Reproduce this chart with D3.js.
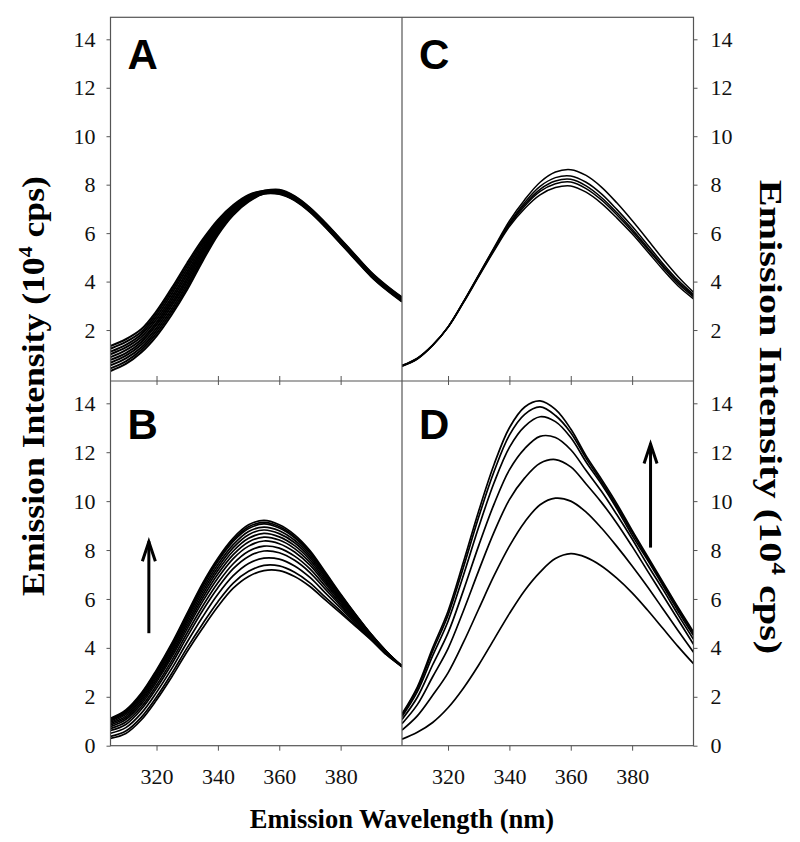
<!DOCTYPE html>
<html>
<head>
<meta charset="utf-8">
<script src="https://cdn.jsdelivr.net/npm/d3@7"></script>
<style>
  html, body { margin: 0; padding: 0; background: #fff; }
  svg { display: block; }
</style>
</head>
<body>
<svg id="chart" width="800" height="842"></svg>
<script>
// ---------- DATA ----------
const wavelengths = [305, 310, 315, 320, 325, 330, 335, 340, 345, 350, 355, 360, 365, 370, 375, 380, 385, 390, 395, 400];
const xTicks = [320, 340, 360, 380];
const yTicksTop = [2, 4, 6, 8, 10, 12, 14];
const yTicksBottom = [0, 2, 4, 6, 8, 10, 12, 14];
const panelLetters = ["A", "B", "C", "D"];
const xTitle = "Emission Wavelength (nm)";
const yTitleMain = "Emission Intensity (10";
const yTitleSup = "4";
const yTitleEnd = " cps)";

// Panel A: emission spectra (10^4 cps)
const seriesA = [
  [0.31, 0.60, 1.07, 1.75, 2.64, 3.67, 4.84, 5.93, 6.75, 7.30, 7.62, 7.61, 7.35, 6.87, 6.25, 5.57, 4.88, 4.20, 3.65, 3.17],
  [0.42, 0.71, 1.18, 1.86, 2.76, 3.79, 4.94, 6.00, 6.80, 7.33, 7.63, 7.63, 7.37, 6.89, 6.27, 5.59, 4.90, 4.22, 3.67, 3.19],
  [0.54, 0.83, 1.28, 1.98, 2.88, 3.91, 5.04, 6.07, 6.84, 7.36, 7.65, 7.65, 7.39, 6.91, 6.29, 5.61, 4.92, 4.24, 3.69, 3.21],
  [0.65, 0.94, 1.39, 2.09, 3.01, 4.04, 5.14, 6.14, 6.89, 7.39, 7.66, 7.67, 7.41, 6.93, 6.31, 5.63, 4.94, 4.26, 3.71, 3.23],
  [0.77, 1.05, 1.50, 2.21, 3.13, 4.16, 5.24, 6.21, 6.93, 7.42, 7.68, 7.69, 7.43, 6.95, 6.33, 5.65, 4.96, 4.28, 3.73, 3.25],
  [0.88, 1.17, 1.60, 2.32, 3.25, 4.28, 5.33, 6.27, 6.98, 7.46, 7.69, 7.71, 7.45, 6.97, 6.35, 5.67, 4.98, 4.30, 3.75, 3.27],
  [1.00, 1.28, 1.71, 2.44, 3.37, 4.40, 5.43, 6.34, 7.02, 7.49, 7.71, 7.73, 7.47, 6.99, 6.37, 5.69, 5.00, 4.32, 3.77, 3.29],
  [1.11, 1.39, 1.82, 2.55, 3.50, 4.53, 5.53, 6.41, 7.07, 7.52, 7.72, 7.75, 7.49, 7.01, 6.39, 5.71, 5.02, 4.34, 3.79, 3.31],
  [1.23, 1.51, 1.92, 2.67, 3.62, 4.65, 5.63, 6.48, 7.11, 7.55, 7.74, 7.77, 7.51, 7.03, 6.41, 5.73, 5.04, 4.36, 3.81, 3.33],
  [1.34, 1.62, 2.03, 2.78, 3.74, 4.77, 5.73, 6.55, 7.16, 7.58, 7.75, 7.79, 7.53, 7.05, 6.43, 5.75, 5.06, 4.38, 3.83, 3.35]
];

// Panel B
const seriesB = [
  [0.30, 0.50, 1.05, 1.87, 2.82, 3.85, 4.80, 5.69, 6.44, 6.92, 7.16, 7.16, 6.92, 6.51, 5.96, 5.42, 4.87, 4.32, 3.71, 3.23],
  [0.38, 0.60, 1.16, 1.99, 2.96, 4.01, 4.98, 5.89, 6.65, 7.13, 7.37, 7.35, 7.09, 6.66, 6.07, 5.50, 4.92, 4.34, 3.72, 3.23],
  [0.51, 0.74, 1.32, 2.18, 3.16, 4.24, 5.26, 6.19, 6.95, 7.45, 7.67, 7.63, 7.35, 6.88, 6.25, 5.62, 4.99, 4.38, 3.75, 3.24],
  [0.62, 0.87, 1.48, 2.35, 3.35, 4.46, 5.52, 6.46, 7.24, 7.74, 7.96, 7.89, 7.58, 7.08, 6.40, 5.72, 5.06, 4.41, 3.76, 3.24],
  [0.70, 0.97, 1.58, 2.47, 3.49, 4.62, 5.70, 6.66, 7.44, 7.95, 8.16, 8.08, 7.75, 7.23, 6.52, 5.80, 5.11, 4.43, 3.78, 3.24],
  [0.78, 1.07, 1.69, 2.60, 3.63, 4.78, 5.89, 6.86, 7.65, 8.16, 8.37, 8.26, 7.92, 7.38, 6.63, 5.88, 5.15, 4.46, 3.79, 3.24],
  [0.85, 1.14, 1.78, 2.69, 3.74, 4.90, 6.03, 7.02, 7.81, 8.33, 8.53, 8.41, 8.06, 7.49, 6.72, 5.94, 5.19, 4.47, 3.80, 3.24],
  [0.91, 1.21, 1.86, 2.78, 3.83, 5.01, 6.16, 7.16, 7.96, 8.48, 8.68, 8.54, 8.18, 7.60, 6.80, 6.00, 5.23, 4.49, 3.81, 3.24],
  [0.96, 1.28, 1.93, 2.87, 3.93, 5.12, 6.29, 7.29, 8.10, 8.63, 8.82, 8.67, 8.30, 7.70, 6.88, 6.05, 5.26, 4.51, 3.82, 3.25],
  [1.01, 1.34, 2.00, 2.94, 4.01, 5.22, 6.40, 7.41, 8.22, 8.76, 8.94, 8.79, 8.40, 7.79, 6.95, 6.10, 5.29, 4.52, 3.83, 3.25],
  [1.06, 1.39, 2.06, 3.01, 4.09, 5.31, 6.51, 7.53, 8.35, 8.88, 9.07, 8.90, 8.50, 7.88, 7.02, 6.15, 5.32, 4.53, 3.84, 3.25],
  [1.09, 1.42, 2.10, 3.05, 4.14, 5.36, 6.57, 7.59, 8.41, 8.95, 9.13, 8.96, 8.55, 7.92, 7.05, 6.17, 5.33, 4.54, 3.84, 3.25],
  [1.12, 1.46, 2.14, 3.10, 4.19, 5.42, 6.64, 7.67, 8.49, 9.03, 9.21, 9.03, 8.62, 7.98, 7.10, 6.20, 5.35, 4.55, 3.85, 3.25]
];

// Panel C
const seriesC = [
  [0.50, 0.80, 1.36, 2.12, 3.16, 4.28, 5.40, 6.50, 7.38, 8.10, 8.52, 8.62, 8.38, 7.90, 7.25, 6.52, 5.74, 4.94, 4.20, 3.56],
  [0.51, 0.81, 1.37, 2.13, 3.16, 4.27, 5.37, 6.41, 7.27, 7.93, 8.29, 8.36, 8.10, 7.62, 6.98, 6.28, 5.52, 4.75, 4.05, 3.47],
  [0.52, 0.82, 1.37, 2.12, 3.15, 4.25, 5.34, 6.37, 7.19, 7.81, 8.15, 8.22, 7.95, 7.47, 6.85, 6.16, 5.41, 4.66, 3.97, 3.42],
  [0.53, 0.83, 1.38, 2.12, 3.14, 4.23, 5.31, 6.33, 7.12, 7.72, 8.04, 8.11, 7.84, 7.37, 6.76, 6.08, 5.34, 4.60, 3.91, 3.37],
  [0.54, 0.84, 1.38, 2.11, 3.12, 4.20, 5.27, 6.27, 7.02, 7.58, 7.88, 7.95, 7.69, 7.23, 6.63, 5.97, 5.24, 4.50, 3.82, 3.29]
];

// Panel D
const seriesD = [
  [0.27, 0.55, 0.95, 1.55, 2.35, 3.30, 4.35, 5.40, 6.35, 7.10, 7.65, 7.85, 7.70, 7.35, 6.85, 6.25, 5.55, 4.80, 4.05, 3.35],
  [0.64, 1.22, 2.06, 2.98, 4.22, 5.59, 6.95, 8.16, 9.15, 9.85, 10.12, 10.00, 9.55, 8.90, 8.15, 7.35, 6.50, 5.60, 4.70, 3.82],
  [0.90, 1.68, 2.82, 3.97, 5.51, 7.16, 8.73, 10.06, 10.95, 11.55, 11.70, 11.40, 10.70, 9.95, 9.10, 8.15, 7.15, 6.15, 5.15, 4.15],
  [1.07, 1.98, 3.31, 4.61, 6.34, 8.18, 9.88, 11.28, 12.15, 12.65, 12.60, 12.10, 11.25, 10.40, 9.45, 8.45, 7.40, 6.40, 5.35, 4.35],
  [1.19, 2.21, 3.68, 5.09, 6.96, 8.94, 10.75, 12.20, 13.06, 13.45, 13.25, 12.60, 11.60, 10.70, 9.70, 8.60, 7.60, 6.55, 5.50, 4.50],
  [1.26, 2.33, 3.88, 5.34, 7.29, 9.35, 11.21, 12.70, 13.55, 13.85, 13.50, 12.80, 11.75, 10.80, 9.80, 8.72, 7.68, 6.63, 5.60, 4.60],
  [1.30, 2.40, 4.00, 5.50, 7.50, 9.60, 11.50, 13.00, 13.85, 14.10, 13.75, 12.95, 11.85, 10.90, 9.90, 8.80, 7.75, 6.70, 5.65, 4.65]
];

// arrows: [wavelength, from value, to value]
const arrowB = [317.5, 4.6, 8.4];
const arrowD = [386, 8.1, 12.4];

// ---------- LAYOUT ----------
const svg = d3.select("#chart");
const X0 = 110.5, XM = 402, X1 = 693.5;
const Y0 = 17.3, YM = 381, Y1 = 745.7;

const xLeft = d3.scaleLinear().domain([305, 400]).range([X0, XM]);
const xRight = d3.scaleLinear().domain([305, 400]).range([XM, X1]);
const yTop = d3.scaleLinear().domain([0, 14]).range([378.5, 39.3]);
const yBot = d3.scaleLinear().domain([0, 14]).range([Y1, 403.3]);

const frameColor = "#555";
const serif = "'Liberation Serif', 'Times New Roman', serif";
const sans = "'Liberation Sans', Arial, sans-serif";

const defs = svg.append("defs");
const panels = [
  { id: "A", x: xLeft, y: yTop, data: seriesA, box: [X0, Y0, XM, YM], sw: 2.0 },
  { id: "B", x: xLeft, y: yBot, data: seriesB, box: [X0, YM, XM, Y1], sw: 1.7 },
  { id: "C", x: xRight, y: yTop, data: seriesC, box: [XM, Y0, X1, YM], sw: 1.5 },
  { id: "D", x: xRight, y: yBot, data: seriesD, box: [XM, YM, X1, Y1], sw: 1.7 }
];

panels.forEach((p, i) => {
  const [bx0, by0, bx1, by1] = p.box;
  defs.append("clipPath").attr("id", "clip" + p.id)
    .append("rect").attr("x", bx0).attr("y", by0).attr("width", bx1 - bx0).attr("height", by1 - by0);
  const line = d3.line()
    .x((d, j) => p.x(wavelengths[j]))
    .y(d => p.y(d))
    .curve(d3.curveCatmullRom.alpha(0.5));
  const g = svg.append("g").attr("clip-path", `url(#clip${p.id})`);
  g.selectAll("path").data(p.data).join("path")
    .attr("d", line)
    .attr("fill", "none")
    .attr("stroke", "#000")
    .attr("stroke-width", p.sw)
    .attr("stroke-linejoin", "round");

  // panel letter
  svg.append("text")
    .attr("x", bx0 + 17)
    .attr("y", by0 + (i % 2 === 0 ? 52 : 58))
    .style("font-family", sans)
    .style("font-weight", "bold")
    .style("font-size", "42px")
    .attr("fill", "#000")
    .text(panelLetters[i]);
});

// ---------- AXES ----------
function styleAxis(g, fontSize) {
  g.attr("font-family", null).attr("font-size", null);
  g.select(".domain").remove();
  g.selectAll(".tick line").attr("stroke", frameColor).attr("stroke-width", 1);
  g.selectAll(".tick text")
    .style("font-family", serif)
    .style("font-size", fontSize + "px")
    .attr("fill", "#111");
}

// left y axes
svg.append("g").attr("transform", `translate(${X0},0)`)
  .call(d3.axisLeft(yTop).tickValues(yTicksTop).tickSize(4).tickPadding(11).tickFormat(d3.format("d")))
  .call(g => styleAxis(g, 22));
svg.append("g").attr("transform", `translate(${X0},0)`)
  .call(d3.axisLeft(yBot).tickValues(yTicksBottom).tickSize(4).tickPadding(11).tickFormat(d3.format("d")))
  .call(g => styleAxis(g, 22));
// right y axes
svg.append("g").attr("transform", `translate(${X1},0)`)
  .call(d3.axisRight(yTop).tickValues(yTicksTop).tickSize(4).tickPadding(13).tickFormat(d3.format("d")))
  .call(g => styleAxis(g, 22));
svg.append("g").attr("transform", `translate(${X1},0)`)
  .call(d3.axisRight(yBot).tickValues(yTicksBottom).tickSize(4).tickPadding(13).tickFormat(d3.format("d")))
  .call(g => styleAxis(g, 22));

// bottom x axes with labels
[xLeft, xRight].forEach(xs => {
  svg.append("g").attr("transform", `translate(0,${Y1})`)
    .call(d3.axisBottom(xs).tickValues(xTicks).tickSize(5).tickPadding(18).tickFormat(d3.format("d")))
    .call(g => styleAxis(g, 22));
  // middle divider ticks (up into top panels, down into bottom panels)
  svg.append("g").attr("transform", `translate(0,${YM})`)
    .call(d3.axisTop(xs).tickValues(xTicks).tickSize(5).tickFormat(""))
    .call(g => styleAxis(g, 22));
  svg.append("g").attr("transform", `translate(0,${YM})`)
    .call(d3.axisBottom(xs).tickValues(xTicks).tickSize(4).tickFormat(""))
    .call(g => styleAxis(g, 22));
});

// frame lines
const frame = svg.append("g").attr("stroke", frameColor).attr("stroke-width", 1.2).attr("fill", "none");
frame.append("rect").attr("x", X0).attr("y", Y0).attr("width", X1 - X0).attr("height", Y1 - Y0);
frame.append("line").attr("x1", XM).attr("x2", XM).attr("y1", Y0).attr("y2", Y1);
frame.append("line").attr("x1", X0).attr("x2", X1).attr("y1", YM).attr("y2", YM);

// ---------- ARROWS ----------
function drawArrow(xs, ys, a) {
  const x = xs(a[0]), yFrom = ys(a[1]), yTo = ys(a[2]);
  const g = svg.append("g").attr("stroke", "#000").attr("fill", "none")
    .attr("stroke-width", 3).attr("stroke-linecap", "butt").attr("stroke-linejoin", "miter");
  g.append("line").attr("x1", x).attr("x2", x).attr("y1", yFrom).attr("y2", yTo + 1);
  g.append("path").attr("d", `M${x - 6.5},${yTo + 21} L${x},${yTo + 1.5} L${x + 6.5},${yTo + 21}`);
}
drawArrow(xLeft, yBot, arrowB);
drawArrow(xRight, yBot, arrowD);

// ---------- TITLES ----------
svg.append("text")
  .attr("x", (X0 + X1) / 2)
  .attr("y", 828)
  .attr("text-anchor", "middle")
  .style("font-family", serif)
  .style("font-weight", "bold")
  .style("font-size", "26.5px")
  .attr("fill", "#000")
  .text(xTitle);

function yTitle(x, y, rot, stretch) {
  const t = svg.append("text")
    .attr("transform", `translate(${x},${y}) rotate(${rot}) scale(${stretch},1)`)
    .attr("text-anchor", "middle")
    .style("font-family", serif)
    .style("font-weight", "bold")
    .style("font-size", "31px")
    .attr("fill", "#000");
  t.append("tspan").text(yTitleMain);
  t.append("tspan").style("font-size", "19px").attr("dy", -12).text(yTitleSup);
  t.append("tspan").attr("dy", 12).text(yTitleEnd);
}
yTitle(44, 386, -90, 1.15);
yTitle(760, 417, 90, 1.3);
</script>
</body>
</html>
